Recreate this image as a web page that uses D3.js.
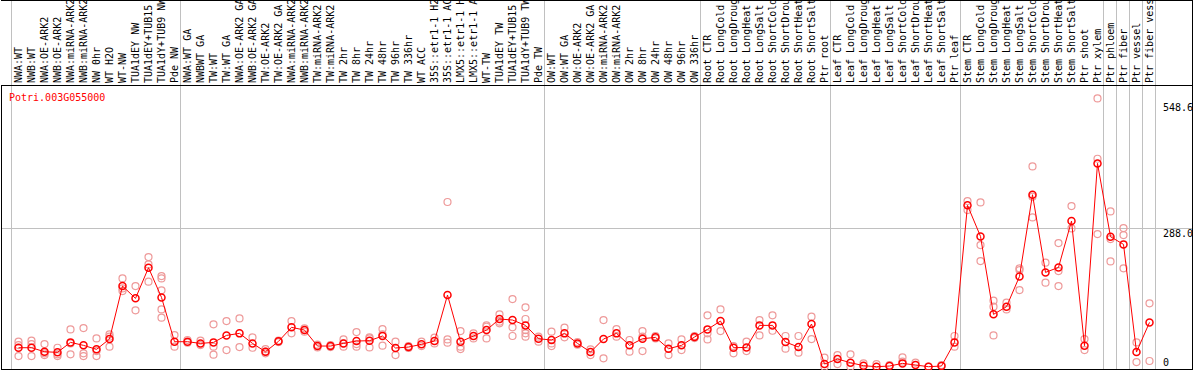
<!DOCTYPE html>
<html>
<head>
<meta charset="utf-8">
<script src="https://cdn.jsdelivr.net/npm/d3@7/dist/d3.min.js"></script>
<style>
  body { margin: 0; background: #fff; }
  svg { display: block; }
  text { font-family: "DejaVu Sans Mono", monospace; font-size: 10px; }
</style>
</head>
<body>
<svg width="1194" height="370"></svg>
<script>
const gene = "Potri.003G055000";

const categories = [
  "NWA:WT", "NWB:WT", "NWA:OE-ARK2", "NWB:OE-ARK2", "NWA:miRNA-ARK2", "NWB:miRNA-ARK2",
  "NW 0hr", "WT H2O", "WT-NW", "TUA1dEY NW", "TUA1dEY+TUB15 NW", "TUA1dY+TUB9 NW", "Pde NW",
  "NWA:WT GA", "NWBWT GA", "TW:WT", "TW:WT GA", "NWA:OE-ARK2 GA", "NWB:OE-ARK2 GA",
  "TW:OE-ARK2", "TW:OE-ARK2 GA", "NWA:miRNA-ARK2", "NWB:miRNA-ARK2", "TW:miRNA-ARK2",
  "TW:miRNA-ARK2", "TW 2hr", "TW 8hr", "TW 24hr", "TW 48hr", "TW 96hr", "TW 336hr", "WT ACC",
  "35S::etr1-1 H2O", "35S::etr1-1 ACC", "LMX5::etr1-1 H2O", "LMX5::etr1-1 ACC", "WT-TW",
  "TUA1dEY TW", "TUA1dEY+TUB15 TW", "TUA1dY+TUB9 TW", "Pde TW",
  "OW:WT", "OW:WT GA", "OW:OE-ARK2", "OW:OE-ARK2 GA", "OW:miRNA-ARK2", "OW:miRNA-ARK2",
  "OW 2hr", "OW 8hr", "OW 24hr", "OW 48hr", "OW 96hr", "OW 336hr",
  "Root CTR", "Root LongCold", "Root LongDrought", "Root LongHeat", "Root LongSalt",
  "Root ShortCold", "Root ShortDrought", "Root ShortHeat", "Root ShortSalt", "Ptr root",
  "Leaf CTR", "Leaf LongCold", "Leaf LongDrought", "Leaf LongHeat", "Leaf LongSalt",
  "Leaf ShortCold", "Leaf ShortDrought", "Leaf ShortHeat", "Leaf ShortSalt", "Ptr leaf",
  "Stem CTR", "Stem LongCold", "Stem LongDrought", "Stem LongHeat", "Stem LongSalt",
  "Stem ShortCold", "Stem ShortDrought", "Stem ShortHeat", "Stem ShortSalt", "Ptr shoot",
  "Ptr xylem", "Ptr phloem", "Ptr fiber", "Ptr vessel", "Ptr fiber vessel"
];

// mean expression per sample
const means = [
  39.4, 39.4, 31.1, 29.8, 50.5, 44.3, 36.0, 57.4, 167.5, 141.9, 205.5, 143.9, 51.9,
  51.9, 48.4, 50.5, 65.0, 69.2, 48.4, 31.1, 52.6, 81.7, 76.1, 42.9, 42.9, 48.4,
  53.3, 54.0, 63.7, 38.8, 40.8, 46.4, 53.3, 148.8, 51.9, 63.7, 76.1, 99.0, 96.9,
  85.8, 58.1, 55.4, 69.2, 48.4, 30.4, 57.4, 69.2, 44.3, 58.1, 60.9, 37.4, 44.3,
  61.6, 77.5, 94.8, 39.4, 40.1, 85.8, 85.8, 51.2, 40.8, 88.6, 5.5, 15.9, 8.3,
  2.1, 0, 1.4, 6.9, 3.5, 0, 1.4, 50.5, 335.0, 270.6, 108.7, 124.6, 187.5, 357.1,
  195.8, 206.2, 302.4, 43.6, 422.1, 269.9, 254.0, 30.4, 92.0
];

// replicate values per sample
const reps = [
  [51.9, 45.0, 22.1], [54.0, 47.0, 22.1], [47.0, 27.7, 24.2], [39.4, 22.1, 25.6],
  [77.5, 25.6, 48.4], [80.3, 27.7, 22.1], [58.8, 32.5, 22.1], [67.1, 62.3, 41.5],
  [183.4, 157.1, 162.6], [167.5, 117.0], [227.7, 212.4, 176.5],
  [188.2, 183.4, 158.5, 119.0, 101.7], [65.7, 41.5],
  [55.4, 49.8], [54.0, 45.0], [87.9, 41.5, 24.9], [94.8, 34.6], [100.3, 40.8],
  [60.9, 39.4], [36.7, 27.7, 31.1], [54.0, 51.2], [94.8, 69.2], [79.6, 72.7],
  [45.7, 40.1], [45.0, 40.8], [56.7, 41.5, 48.4], [72.0, 41.5, 47.0],
  [60.9, 40.1, 58.8], [78.2, 43.6, 67.1], [51.9, 24.2], [42.9, 38.8], [51.9, 42.9],
  [60.2, 48.4], [56.7, 49.8, 342.0], [74.0, 41.5, 36.7], [69.2, 58.8],
  [85.8, 58.8, 83.0], [108.7, 90.0, 93.4], [140.5, 81.7, 63.7],
  [123.2, 99.0, 76.1, 69.2, 62.3], [62.3, 51.9],
  [72.7, 42.9, 48.4], [81.0, 60.9], [51.2, 45.7], [36.0, 24.2], [96.9, 17.3],
  [78.2, 62.3], [55.4, 31.1], [74.0, 32.5, 62.3], [58.8, 63.7], [48.4, 24.2],
  [56.7, 34.6], [63.7, 59.5],
  [106.6, 69.2, 56.7], [119.0, 74.0], [42.9, 27.7], [51.9, 32.5], [96.9, 65.0],
  [106.6, 74.7], [63.7, 37.4], [63.7, 29.1], [103.8, 57.4], [18.7, 0],
  [24.2, 5.5], [25.6, 0], [6.9], [5.5], [3.5], [19.4, 10.4], [8.3], [0], [3.5],
  [63.7, 41.5],
  [344.0, 325.3], [341.2, 252.6, 219.4], [137.0, 124.6, 65.0], [132.9, 119.0],
  [204.2, 200.7, 159.2], [415.9, 353.0, 310.0], [215.9, 174.4],
  [256.7, 198.6, 167.5], [333.6, 287.2], [57.4, 34.6],
  [557.1, 431.8, 275.4], [322.5, 265.0, 218.7], [287.9, 273.4, 204.2],
  [50.5, 9.7], [131.5, 11.8]
];

const yTicks = [0, 288.0, 548.6];
const yTickLabels = ["0", "288.0", "548.6"];

// index of first sample in each block (vertical separators)
const groupBreaks = [0, 13, 41, 53, 63, 73, 84, 85, 86, 87, 88];

const svg = d3.select("svg");
const left = 1, right = 1192, headerY = 85, bottom = 369;

// sample names repeat, so the band scale works on indexes
const x = d3.scaleBand()
  .domain(d3.range(categories.length))
  .range([12, 12 + 13 * categories.length]);
const cx = i => x(i) + x.bandwidth() / 2;

const y = d3.scaleLinear()
  .domain([0, 548.6])
  .range([366.7, 102.5]);

const colEdge = k => 12 + x.step() * k;

// separators
svg.selectAll("line.sep").data(groupBreaks).enter().append("line")
  .attr("x1", d => colEdge(d) - 0.5).attr("x2", d => colEdge(d) - 0.5)
  .attr("y1", 0).attr("y2", bottom)
  .attr("stroke", "#c0c0c0").attr("stroke-width", 1);

// horizontal grid line (middle tick)
svg.append("line")
  .attr("x1", left).attr("x2", right)
  .attr("y1", Math.round(y(288.0)) + 0.5).attr("y2", Math.round(y(288.0)) + 0.5)
  .attr("stroke", "#c0c0c0");

// frame
svg.append("line").attr("x1", left).attr("x2", right + 1).attr("y1", 0.5).attr("y2", 0.5).attr("stroke", "#000");
svg.append("line").attr("x1", left).attr("x2", right + 1).attr("y1", headerY + 0.5).attr("y2", headerY + 0.5).attr("stroke", "#000");
svg.append("line").attr("x1", left).attr("x2", right + 1).attr("y1", bottom + 0.5).attr("y2", bottom + 0.5).attr("stroke", "#000");
svg.append("line").attr("x1", left + 0.5).attr("x2", left + 0.5).attr("y1", headerY).attr("y2", bottom + 1).attr("stroke", "#000");
svg.append("line").attr("x1", right + 0.5).attr("x2", right + 0.5).attr("y1", 0).attr("y2", bottom + 1).attr("stroke", "#000");

// sample labels, vertical
svg.selectAll("text.cat").data(categories).enter().append("text")
  .attr("class", "cat")
  .attr("transform", (d, i) => `translate(${x(i) + 9.5},83) rotate(-90)`)
  .attr("fill", "#000")
  .text(d => d);

// y labels
svg.selectAll("text.ytick").data(yTicks).enter().append("text")
  .attr("x", 1163)
  .attr("y", (d, i) => i === 0 ? 366 : y(d) + 8.5)
  .attr("fill", "#000")
  .text((d, i) => yTickLabels[i]);

// gene name
svg.append("text").attr("x", 9).attr("y", 101).attr("fill", "#ff0000").text(gene);

// replicates
const repPts = [];
reps.forEach((r, i) => r.forEach(v => repPts.push({ i, v })));
svg.selectAll("circle.rep").data(repPts).enter().append("circle")
  .attr("cx", d => cx(d.i))
  .attr("cy", d => y(d.v))
  .attr("r", 3.5)
  .attr("fill", "none")
  .attr("stroke", "#ee9a9a")
  .attr("stroke-width", 1.2);

// mean line
const line = d3.line()
  .x((d, i) => cx(i))
  .y(d => y(d));
svg.append("path").datum(means)
  .attr("d", line)
  .attr("fill", "none")
  .attr("stroke", "#ff0000")
  .attr("stroke-width", 1);

svg.selectAll("circle.mean").data(means).enter().append("circle")
  .attr("cx", (d, i) => cx(i))
  .attr("cy", d => y(d))
  .attr("r", 3.5)
  .attr("fill", "none")
  .attr("stroke", "#ff0000")
  .attr("stroke-width", 1.5);
</script>
</body>
</html>
